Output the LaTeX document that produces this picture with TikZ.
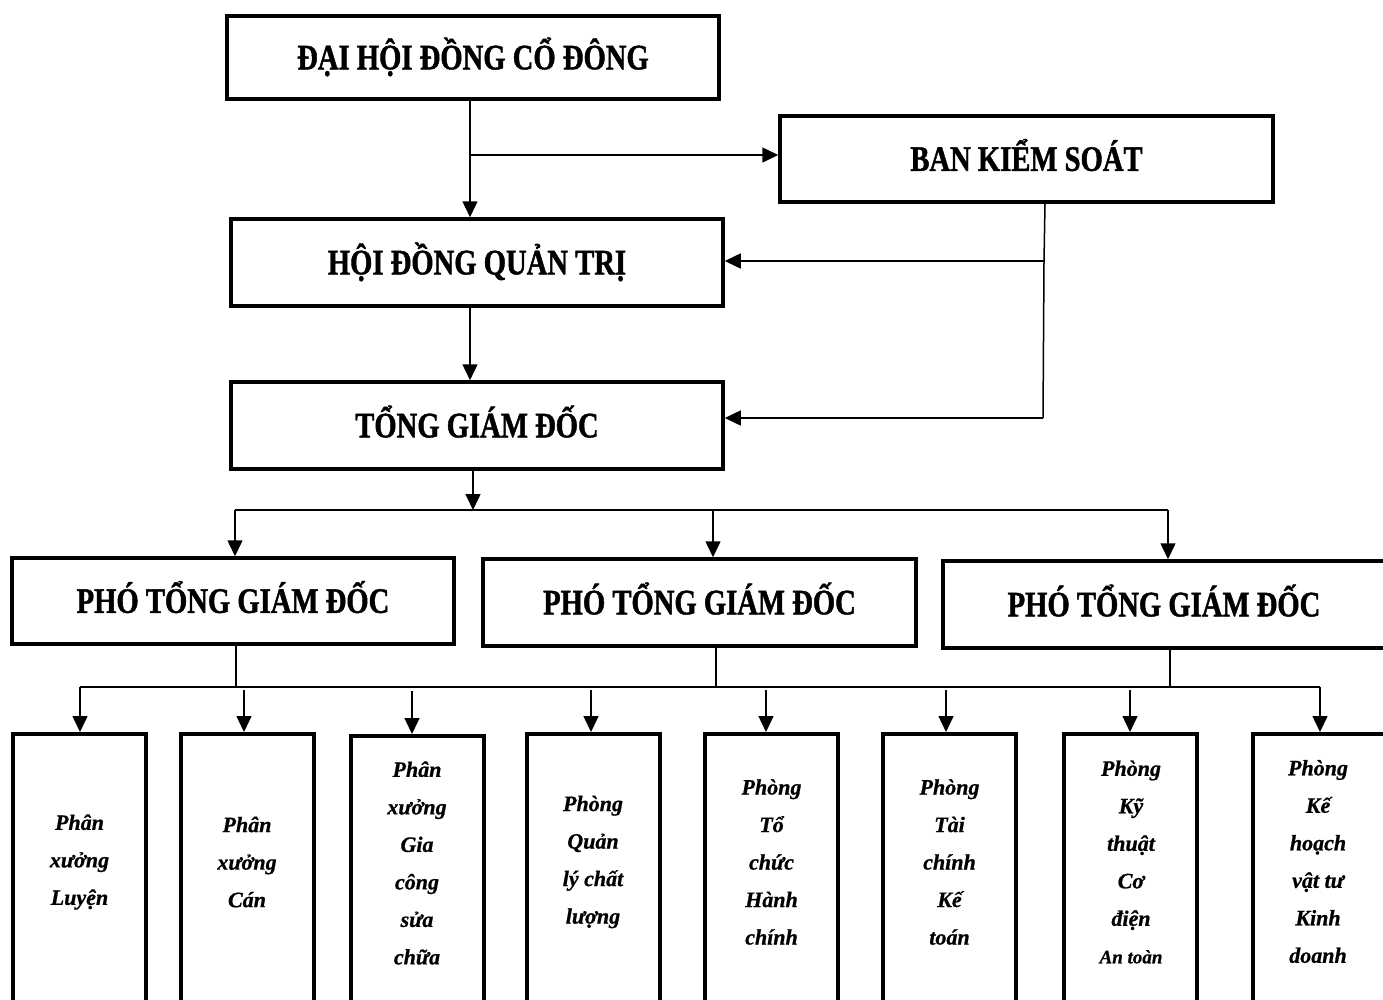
\documentclass[tikz,border=0pt]{standalone}
\usepackage{fontspec}
\setmainfont{Liberation Serif}
\newfontfamily\topfont[FakeStretch=0.8,FakeBold=1.2]{Liberation Serif Bold}
\newfontfamily\lowfont[FakeBold=0.8]{Liberation Serif Bold Italic}
\usetikzlibrary{arrows.meta}
\begin{document}
\begin{tikzpicture}[x=1pt,y=-1pt,
  box/.style={draw,line width=3.5pt,inner sep=0pt,text height=33.7pt,text depth=10pt,font=\topfont\fontsize{35.8}{40}\selectfont},
  lowbox/.style={draw,line width=3.5pt,inner sep=0pt,anchor=north,minimum height=278pt},
  lowtext/.style={align=center,inner sep=0pt,font=\lowfont\fontsize{22}{37.5}\selectfont},
  conn/.style={line width=1.5pt},
  arr/.style={conn,-{Triangle[length=16pt,width=15pt]}}]
\useasboundingbox (0,0) rectangle (1383,999);

% upper boxes
\node[box,minimum width=492pt,minimum height=83pt] (dh) at (473,57.5) {ĐẠI HỘI ĐỒNG CỔ ĐÔNG};
\node[box,minimum width=493pt,minimum height=86pt] (bks) at (1026.5,159) {BAN KIỂM SOÁT};
\node[box,minimum width=492pt,minimum height=87pt] (hd) at (477,262.5) {HỘI ĐỒNG QUẢN TRỊ};
\node[box,minimum width=492pt,minimum height=87pt] (tgd) at (477,425.5) {TỔNG GIÁM ĐỐC};
\node[box,minimum width=442pt,minimum height=86pt] (p1) at (233,601) {PHÓ TỔNG GIÁM ĐỐC};
\node[box,minimum width=433pt,minimum height=87pt] (p2) at (699.5,602.5) {PHÓ TỔNG GIÁM ĐỐC};
\node[box,minimum width=446pt,minimum height=87pt] (p3) at (1166,604.5) {\hspace*{-4pt}PHÓ TỔNG GIÁM ĐỐC};

% lower boxes
\node[lowbox,minimum width=133pt] (b1) at (79.5,732) {};
\node[lowbox,minimum width=133pt] (b2) at (247.5,732) {};
\node[lowbox,minimum width=133pt] (b3) at (417.5,734) {};
\node[lowbox,minimum width=133pt] (b4) at (593.5,732) {};
\node[lowbox,minimum width=133pt] (b5) at (771.5,732) {};
\node[lowbox,minimum width=133pt] (b6) at (949.5,732) {};
\node[lowbox,minimum width=133pt] (b7) at (1130.5,732) {};
\node[lowbox,minimum width=150pt] (b8) at (1328,732) {};

\node[lowtext] (t1) at (79.5,862) {Phân\\xưởng\\Luyện};
\node[lowtext] (t2) at (247,862) {Phân\\xưởng\\Cán};
\node[lowtext] (t3) at (417,863) {Phân\\xưởng\\Gia\\công\\sửa\\chữa};
\node[lowtext] (t4) at (593,862) {Phòng\\Quản\\lý chất\\lượng};
\node[lowtext] (t5) at (771.5,862) {Phòng\\Tổ\\chức\\Hành\\chính};
\node[lowtext] (t6) at (949.5,862) {Phòng\\Tài\\chính\\Kế\\toán};
\node[lowtext] (t7) at (1131,862) {Phòng\\Kỹ\\thuật\\Cơ\\điện\\{\fontsize{19}{37.5}\selectfont An toàn}};
\node[lowtext] (t8) at (1318,861.5) {Phòng\\Kế\\hoạch\\vật tư\\Kinh\\doanh};

% connectors top
\coordinate (v1) at (470,155);
\draw[arr] (v1 |- dh.south) -- (v1 |- hd.north);
\draw[arr] (v1) -- (v1 -| bks.west);
\draw[arr] (v1 |- hd.south) -- (v1 |- tgd.north);
\coordinate (v2) at (1045,261);
\coordinate (v3) at (1043,418);
\draw[conn] (v2 |- bks.south) -- (1044,261) -- (v3);
\draw[arr] (v2) -- (v2 -| hd.east);
\draw[arr] (v3) -- (v3 -| tgd.east);

% TGD to deputies
\coordinate (v4) at (473,510);
\draw[arr] (v4 |- tgd.south) -- (v4);
\coordinate (bl) at (235,510);
\coordinate (bm) at (713,510);
\coordinate (br) at (1168,510);
\draw[conn] (bl) -- (br);
\draw[arr] (bl) -- (bl |- p1.north);
\draw[arr] (bm) -- (bm |- p2.north);
\draw[arr] (br) -- (br |- p3.north);

% deputies to departments
\coordinate (s1) at (236,687);
\coordinate (s2) at (716,687);
\coordinate (s3) at (1170,687);
\draw[conn] (s1 |- p1.south) -- (s1);
\draw[conn] (s2 |- p2.south) -- (s2);
\draw[conn] (s3 |- p3.south) -- (s3);
\coordinate (c1) at (80,687);
\coordinate (c8) at (1320,687);
\draw[conn] (c1) -- (c8);
\coordinate (c2) at (244,690);
\coordinate (c3) at (412,691);
\coordinate (c4) at (591,690);
\coordinate (c5) at (766,690);
\coordinate (c6) at (946,690);
\coordinate (c7) at (1130,690);
\foreach \i in {1,...,8}{
  \draw[arr] (c\i) -- (c\i |- b\i.north);
}
\end{tikzpicture}
\end{document}
